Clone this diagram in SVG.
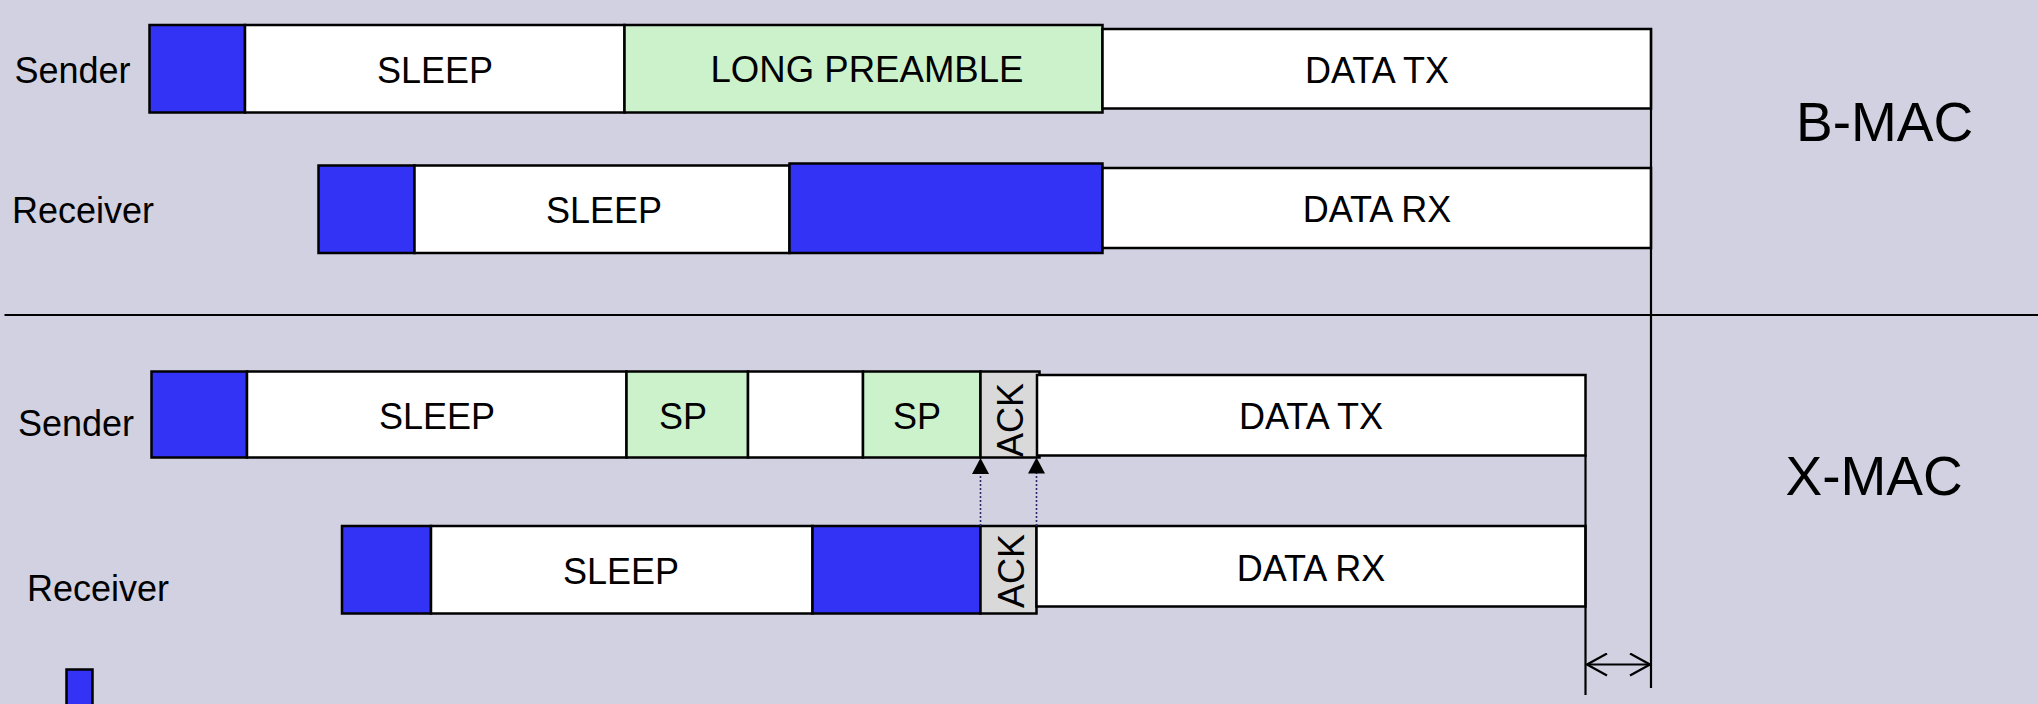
<svg xmlns="http://www.w3.org/2000/svg" width="2038" height="704" viewBox="0 0 2038 704">
<defs>
<style>
.bg{fill:#D1D1E1}
.box{stroke:#000;stroke-width:2.5}
.wake{fill:#3333F5}
.sleep{fill:#FFFFFF}
.pre{fill:#CCF2CC}
.ack{fill:#D9D9D9}
.t{font-family:"Liberation Sans",Arial,sans-serif;font-size:36px;fill:#000;text-anchor:middle}
.lbl{font-family:"Liberation Sans",Arial,sans-serif;font-size:36px;fill:#000}
.big{font-family:"Liberation Sans",Arial,sans-serif;font-size:55px;fill:#000}
.ln{stroke:#000;stroke-width:2.2;fill:none}
.dot{stroke:#2A2A6A;stroke-width:1.6;stroke-dasharray:2 2;fill:none}
</style>
<marker id="tri" markerUnits="userSpaceOnUse" viewBox="0 0 16 17" refX="16" refY="8.5" markerWidth="16" markerHeight="17" orient="auto">
<path d="M0,0 L16,8.5 L0,17 z" fill="#000"/>
</marker>
<marker id="vee" markerUnits="userSpaceOnUse" viewBox="0 0 22 24" refX="21" refY="12" markerWidth="22" markerHeight="24" orient="auto-start-reverse">
<path d="M1,1 L21,12 L1,23" fill="none" stroke="#000" stroke-width="2.2"/>
</marker>
</defs>
<rect class="bg" x="0" y="0" width="2038" height="704"/>

<!-- B-MAC -->
<g id="bmac-sender">
<text class="lbl" x="14.5" y="82.5">Sender</text>
<rect class="box wake" x="149.5" y="25" width="95.5" height="87.5"/>
<rect class="box sleep" x="245" y="25" width="379.5" height="87.5"/>
<text class="t" x="435" y="83">SLEEP</text>
<rect class="box pre" x="624.5" y="25" width="478" height="87.5"/>
<text class="t" x="867" y="82" textLength="313" lengthAdjust="spacingAndGlyphs">LONG PREAMBLE</text>
<rect class="box sleep" x="1102.5" y="29" width="548.5" height="79.5"/>
<text class="t" x="1377" y="82.5">DATA TX</text>
</g>
<g id="bmac-receiver">
<text class="lbl" x="12" y="223">Receiver</text>
<rect class="box wake" x="318.5" y="165.5" width="96" height="87.5"/>
<rect class="box sleep" x="414.5" y="165.5" width="375" height="87.5"/>
<text class="t" x="604" y="223">SLEEP</text>
<rect class="box wake" x="789.5" y="163.5" width="313" height="89.5"/>
<rect class="box sleep" x="1102.5" y="168" width="548.5" height="80"/>
<text class="t" x="1377" y="222">DATA RX</text>
</g>
<g id="bmac-title">
<text class="big" x="1796" y="140.5">B-MAC</text>
</g>

<!-- X-MAC -->
<g id="xmac-sender">
<text class="lbl" x="18" y="436">Sender</text>
<rect class="box wake" x="151.5" y="371.5" width="95.5" height="86"/>
<rect class="box sleep" x="247" y="371.5" width="379.5" height="86"/>
<text class="t" x="437" y="429">SLEEP</text>
<rect class="box pre" x="626.5" y="371.5" width="121.5" height="86"/>
<text class="t" x="683" y="428.5">SP</text>
<rect class="box sleep" x="748" y="371.5" width="115" height="86"/>
<rect class="box pre" x="863" y="371.5" width="117.5" height="86"/>
<text class="t" x="917" y="428.5">SP</text>
<rect class="box ack" x="980.5" y="371.5" width="59" height="86"/>
<text class="t" transform="translate(1023,420) rotate(-90)" x="0" y="0">ACK</text>
<rect class="box sleep" x="1037" y="375" width="548.5" height="80.5"/>
<text class="t" x="1311" y="429">DATA TX</text>
</g>
<g id="xmac-receiver">
<text class="lbl" x="27" y="600.5">Receiver</text>
<rect class="box wake" x="342" y="526" width="89" height="87.5"/>
<rect class="box sleep" x="431" y="526" width="381.5" height="87.5"/>
<text class="t" x="621" y="584">SLEEP</text>
<rect class="box wake" x="812.5" y="526" width="168" height="87.5"/>
<rect class="box ack" x="980.5" y="526" width="56" height="87.5"/>
<text class="t" transform="translate(1024,571) rotate(-90)" x="0" y="0">ACK</text>
<rect class="box sleep" x="1036.5" y="526" width="549" height="80.5"/>
<text class="t" x="1311" y="581">DATA RX</text>
</g>
<g id="xmac-title">
<text class="big" x="1785.5" y="495">X-MAC</text>
</g>

<g id="legend">
<rect class="box wake" x="66.5" y="669.5" width="26" height="60"/>
</g>

<!-- connectors -->
<g id="connectors">
<line class="ln" x1="4.5" y1="315" x2="2038" y2="315"/>
<line class="ln" x1="1651" y1="28" x2="1651" y2="688"/>
<line class="ln" x1="1585.5" y1="455" x2="1585.5" y2="695"/>
<line class="ln" x1="1587" y1="664.5" x2="1650" y2="664.5" marker-start="url(#vee)" marker-end="url(#vee)"/>
<line class="dot" x1="980.5" y1="526" x2="980.5" y2="470"/>
<line class="dot" x1="1036.5" y1="526" x2="1036.5" y2="470"/>
<line x1="980.5" y1="474" x2="980.5" y2="458" stroke="none" marker-end="url(#tri)"/>
<line x1="1036.5" y1="474" x2="1036.5" y2="457.5" stroke="none" marker-end="url(#tri)"/>
</g>
</svg>
